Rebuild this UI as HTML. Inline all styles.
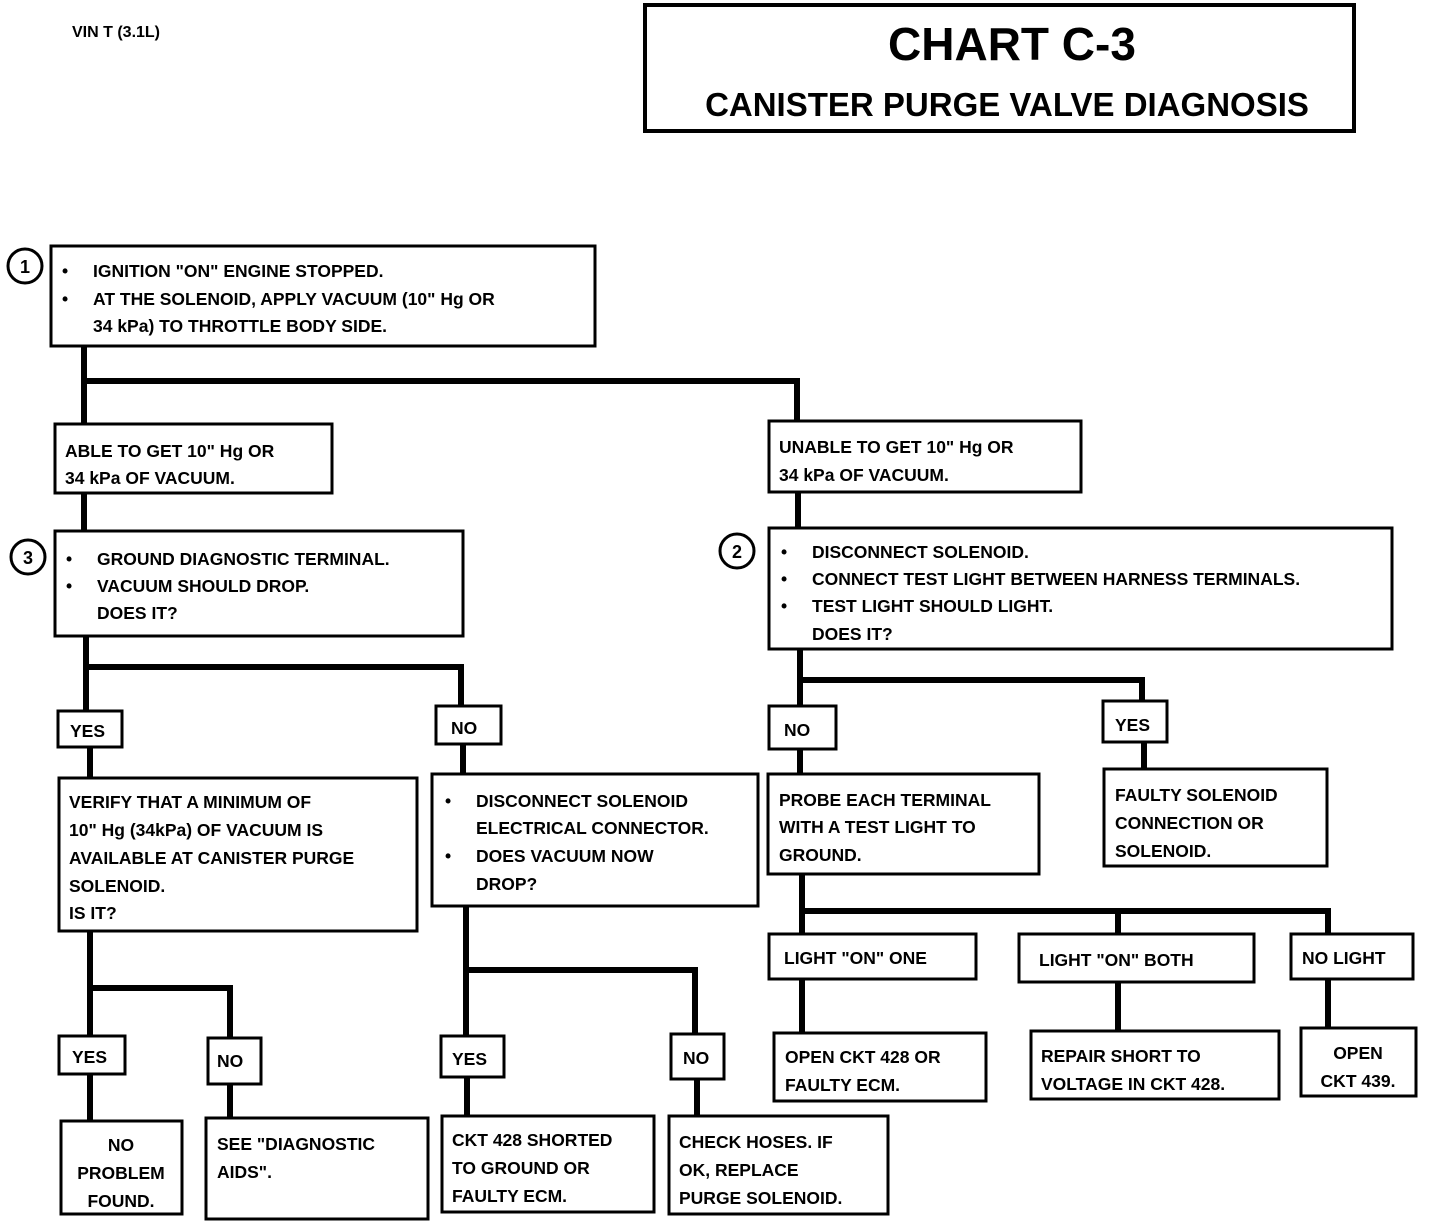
<!DOCTYPE html>
<html><head><meta charset="utf-8"><style>
html,body{margin:0;padding:0;background:#fff;}
svg{display:block;}
text{font-family:"Liberation Sans",sans-serif;font-weight:bold;fill:#000;}
.t{font-size:17.5px;}
</style></head><body>
<svg width="1440" height="1222" viewBox="0 0 1440 1222" xmlns="http://www.w3.org/2000/svg">
<g fill="none" stroke="#000">
<rect x="645" y="5" width="709" height="126" stroke-width="4"/>
<g stroke-width="3">
<rect x="51" y="246" width="544" height="100"/>
<rect x="55" y="424" width="277" height="69"/>
<rect x="769" y="421" width="312" height="71"/>
<rect x="55" y="531" width="408" height="105"/>
<rect x="769" y="528" width="623" height="121"/>
<rect x="58" y="711" width="64" height="36"/>
<rect x="436" y="706" width="65" height="38"/>
<rect x="59" y="778" width="358" height="153"/>
<rect x="432" y="774" width="326" height="132"/>
<rect x="769" y="706" width="67" height="43"/>
<rect x="1103" y="701" width="64" height="41"/>
<rect x="768" y="774" width="271" height="100"/>
<rect x="1104" y="769" width="223" height="97"/>
<rect x="769" y="934" width="207" height="45"/>
<rect x="1019" y="934" width="235" height="48"/>
<rect x="1291" y="934" width="122" height="45"/>
<rect x="774" y="1033" width="212" height="68"/>
<rect x="1031" y="1031" width="248" height="68"/>
<rect x="1301" y="1028" width="115" height="68"/>
<rect x="59" y="1036" width="66" height="38"/>
<rect x="208" y="1038" width="53" height="46"/>
<rect x="61" y="1121" width="121" height="93"/>
<rect x="206" y="1118" width="222" height="101"/>
<rect x="441" y="1036" width="63" height="41"/>
<rect x="671" y="1034" width="53" height="45"/>
<rect x="442" y="1116" width="212" height="96"/>
<rect x="669" y="1116" width="219" height="98"/>
<circle cx="25" cy="266" r="17"/>
<circle cx="28" cy="557" r="17"/>
<circle cx="737" cy="551" r="17"/>
</g>
<g stroke-width="6" stroke-linecap="square">
<path d="M84 348V422M84 381H797V419"/>
<path d="M84 495V529"/>
<path d="M798 494V526"/>
<path d="M86 638V709M86 667H461V704"/>
<path d="M90 749V776"/>
<path d="M463 746V772"/>
<path d="M90 933V1034M90 988H230V1036"/>
<path d="M90 1076V1119"/>
<path d="M230 1086V1116"/>
<path d="M466 908V1034M466 970H695V1032"/>
<path d="M467 1079V1114"/>
<path d="M697 1081V1114"/>
<path d="M800 651V704M800 680H1142V699"/>
<path d="M800 751V772"/>
<path d="M1144 744V767"/>
<path d="M802 876V932M802 911H1328V932M1118 911V932"/>
<path d="M802 981V1031"/>
<path d="M1118 984V1029"/>
<path d="M1328 981V1026"/>
</g>
</g>
<text x="72" y="37" font-size="16">VIN T (3.1L)</text>
<text x="1012" y="60" font-size="46" text-anchor="middle">CHART C-3</text>
<text x="1007" y="116" font-size="33" text-anchor="middle">CANISTER PURGE VALVE DIAGNOSIS</text>
<g font-size="18" text-anchor="middle"><text x="25" y="273">1</text><text x="28" y="564">3</text><text x="737" y="558">2</text></g>
<g class="t">
<text x="62" y="277">•</text><text x="93" y="277">IGNITION "ON" ENGINE STOPPED.</text>
<text x="62" y="305">•</text><text x="93" y="305">AT THE SOLENOID, APPLY VACUUM (10" Hg OR</text>
<text x="93" y="332">34 kPa) TO THROTTLE BODY SIDE.</text>
<text x="65" y="457">ABLE TO GET 10" Hg OR</text>
<text x="65" y="484">34 kPa OF VACUUM.</text>
<text x="779" y="453">UNABLE TO GET 10" Hg OR</text>
<text x="779" y="481">34 kPa OF VACUUM.</text>
<text x="66" y="565">•</text><text x="97" y="565">GROUND DIAGNOSTIC TERMINAL.</text>
<text x="66" y="592">•</text><text x="97" y="592">VACUUM SHOULD DROP.</text>
<text x="97" y="619">DOES IT?</text>
<text x="781" y="558">•</text><text x="812" y="558">DISCONNECT SOLENOID.</text>
<text x="781" y="585">•</text><text x="812" y="585">CONNECT TEST LIGHT BETWEEN HARNESS TERMINALS.</text>
<text x="781" y="612">•</text><text x="812" y="612">TEST LIGHT SHOULD LIGHT.</text>
<text x="812" y="640">DOES IT?</text>
<text x="70" y="737">YES</text>
<text x="451" y="734">NO</text>
<text x="784" y="736">NO</text>
<text x="1115" y="731">YES</text>
<text x="69" y="808">VERIFY THAT A MINIMUM OF</text>
<text x="69" y="836">10" Hg (34kPa) OF VACUUM IS</text>
<text x="69" y="864">AVAILABLE AT CANISTER PURGE</text>
<text x="69" y="892">SOLENOID.</text>
<text x="69" y="919">IS IT?</text>
<text x="445" y="807">•</text><text x="476" y="807">DISCONNECT SOLENOID</text>
<text x="476" y="834">ELECTRICAL CONNECTOR.</text>
<text x="445" y="862">•</text><text x="476" y="862">DOES VACUUM NOW</text>
<text x="476" y="890">DROP?</text>
<text x="779" y="806">PROBE EACH TERMINAL</text>
<text x="779" y="833">WITH A TEST LIGHT TO</text>
<text x="779" y="861">GROUND.</text>
<text x="1115" y="801">FAULTY SOLENOID</text>
<text x="1115" y="829">CONNECTION OR</text>
<text x="1115" y="857">SOLENOID.</text>
<text x="784" y="964">LIGHT "ON" ONE</text>
<text x="1039" y="966">LIGHT "ON" BOTH</text>
<text x="1302" y="964">NO LIGHT</text>
<text x="785" y="1063">OPEN CKT 428 OR</text>
<text x="785" y="1091">FAULTY ECM.</text>
<text x="1041" y="1062">REPAIR SHORT TO</text>
<text x="1041" y="1090">VOLTAGE IN CKT 428.</text>
<text x="1358" y="1059" text-anchor="middle">OPEN</text>
<text x="1358" y="1087" text-anchor="middle">CKT 439.</text>
<text x="72" y="1063">YES</text>
<text x="217" y="1067">NO</text>
<text x="452" y="1065">YES</text>
<text x="683" y="1064">NO</text>
<text x="121" y="1151" text-anchor="middle">NO</text>
<text x="121" y="1179" text-anchor="middle">PROBLEM</text>
<text x="121" y="1207" text-anchor="middle">FOUND.</text>
<text x="217" y="1150">SEE "DIAGNOSTIC</text>
<text x="217" y="1178">AIDS".</text>
<text x="452" y="1146">CKT 428 SHORTED</text>
<text x="452" y="1174">TO GROUND OR</text>
<text x="452" y="1202">FAULTY ECM.</text>
<text x="679" y="1148">CHECK HOSES.  IF</text>
<text x="679" y="1176">OK, REPLACE</text>
<text x="679" y="1204">PURGE SOLENOID.</text>
</g>
</svg>
</body></html>
